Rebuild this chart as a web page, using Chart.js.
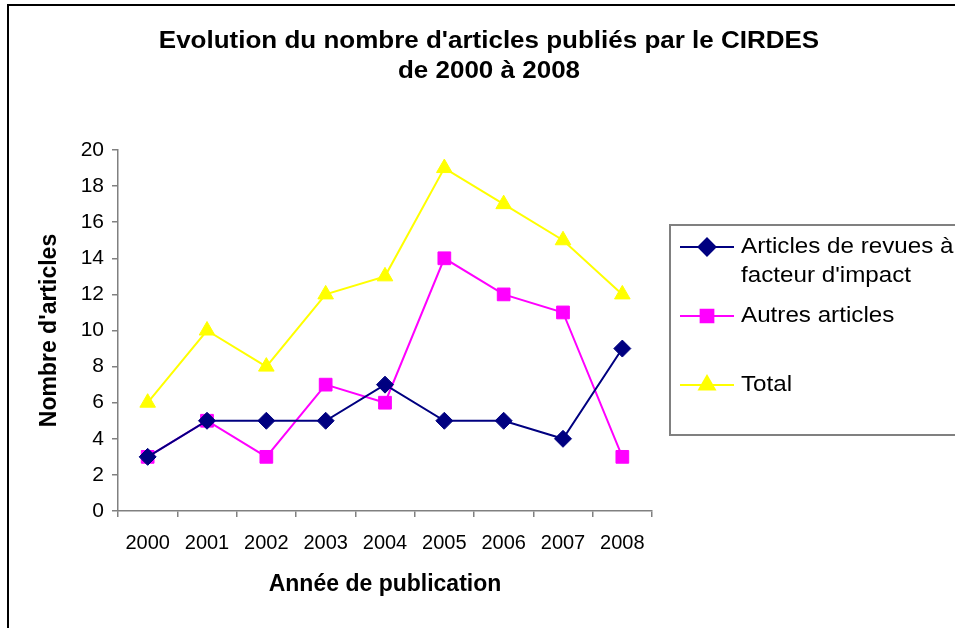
<!DOCTYPE html>
<html>
<head>
<meta charset="utf-8">
<script src="https://cdn.jsdelivr.net/npm/chart.js@4.4.1/dist/chart.umd.min.js"></script>
<style>
  html, body { margin: 0; padding: 0; background: #fff; overflow: hidden; }
  #wrap { position: relative; width: 955px; height: 628px; overflow: hidden; }
  #frame { position: absolute; left: 7px; top: 4px; width: 1000px; height: 700px; border: 2px solid #000; box-sizing: border-box; }
  canvas { position: absolute; left: 0; top: 0; }
</style>
</head>
<body>
<div id="wrap">
  <div id="frame"></div>
  <canvas id="myChart" width="955" height="628"></canvas>
</div>
<script>
const years = ["2000", "2001", "2002", "2003", "2004", "2005", "2006", "2007", "2008"];
const revues = [3, 5, 5, 5, 7, 5, 5, 4, 9];
const autres = [3, 5, 3, 7, 6, 14, 12, 11, 3];
const total = [6, 10, 8, 12, 13, 19, 17, 15, 12];
const titleLines = ["Evolution du nombre d'articles publiés par le CIRDES", "de 2000 à 2008"];
const legendLabels = [["Articles de revues à", "facteur d'impact"], ["Autres articles"], ["Total"]];

const FONT = "Arial, 'Liberation Sans', sans-serif";

// text slightly wider than the font, like the original export
function wideText(c, text, x, y, sx) {
  c.save();
  c.translate(x, y);
  c.scale(sx, 1);
  c.fillText(text, 0, 0);
  c.restore();
}

// title + legend box drawn on the canvas
const extras = {
  id: "extras",
  afterDraw(chart) {
    const c = chart.ctx;
    c.save();
    c.fillStyle = "#000";
    c.textAlign = "center";
    c.textBaseline = "middle";
    c.font = "bold 23px " + FONT;
    wideText(c, titleLines[0], 489, 42, 1.13);
    wideText(c, titleLines[1], 489, 72, 1.13);

    // legend
    c.strokeStyle = "#808080";
    c.lineWidth = 2;
    c.strokeRect(670, 225, 320, 210);
    const rows = [247, 316, 385];
    c.textAlign = "left";
    c.font = "22px " + FONT;
    chart.data.datasets.forEach((ds, i) => {
      const y = rows[i];
      c.strokeStyle = ds.borderColor;
      c.lineWidth = ds.borderWidth;
      c.beginPath();
      c.moveTo(680, y);
      c.lineTo(734, y);
      c.stroke();
      c.fillStyle = ds.backgroundColor;
      c.strokeStyle = ds.backgroundColor;
      Chart.helpers.drawPoint(c, {
        pointStyle: ds.pointStyle,
        radius: ds.pointRadius,
        rotation: 0,
        borderWidth: 1
      }, 707, y);
      c.fillStyle = "#000";
      legendLabels[i].forEach((t, j) => wideText(c, t, 741, y + j * 29, 1.1));
    });
    c.restore();
  }
};

const ctx1 = document.getElementById("myChart").getContext("2d");

const myChart = new Chart(ctx1, {
  type: "line",
  data: {
    labels: years,
    datasets: [
      {
        label: "Articles de revues à facteur d'impact",
        data: revues,
        borderColor: "#000080",
        backgroundColor: "#000080",
        borderWidth: 2,
        pointStyle: "rectRot",
        pointRadius: 8.5,
        pointBorderWidth: 1,
      },
      {
        label: "Autres articles",
        data: autres,
        borderColor: "#FF00FF",
        backgroundColor: "#FF00FF",
        borderWidth: 2,
        pointStyle: "rect",
        pointRadius: 9,
        pointBorderWidth: 1,
      },
      {
        label: "Total",
        data: total,
        borderColor: "#FFFF00",
        backgroundColor: "#FFFF00",
        borderWidth: 2,
        pointStyle: "triangle",
        pointRadius: 9,
        pointBorderWidth: 1,
      },
    ],
  },
  options: {
    responsive: false,
    animation: false,
    events: [],
    layout: { padding: { left: 0, top: 150, right: 303, bottom: 0 } },
    plugins: {
      legend: { display: false },
      title: { display: false },
      tooltip: { enabled: false },
    },
    scales: {
      x: {
        offset: true,
        afterFit: (s) => { s.height = 117; },
        grid: { offset: true, drawOnChartArea: false, drawTicks: true, tickLength: 6, color: "#808080", lineWidth: 1.5 },
        border: { display: true, color: "#808080", width: 1.5 },
        ticks: { color: "#000", padding: 14, maxRotation: 0, font: { family: FONT, size: 20 } },
        title: { display: true, text: "Année de publication", color: "#000", padding: { top: 0, bottom: 30 }, font: { family: FONT, size: 23, weight: "bold" } },
      },
      y: {
        min: 0,
        max: 20,
        afterFit: (s) => { s.width = 118; },
        grid: { drawOnChartArea: false, drawTicks: true, tickLength: 6, color: "#808080", lineWidth: 1.5 },
        border: { display: true, color: "#808080", width: 1.5 },
        ticks: { stepSize: 2, color: "#000", padding: 8, font: { family: FONT, size: 21 } },
        title: { display: true, text: "Nombre d'articles", color: "#000", padding: { top: 36, bottom: 0 }, font: { family: FONT, size: 23, weight: "bold" } },
      },
    },
  },
  plugins: [extras],
});
</script>
</body>
</html>
